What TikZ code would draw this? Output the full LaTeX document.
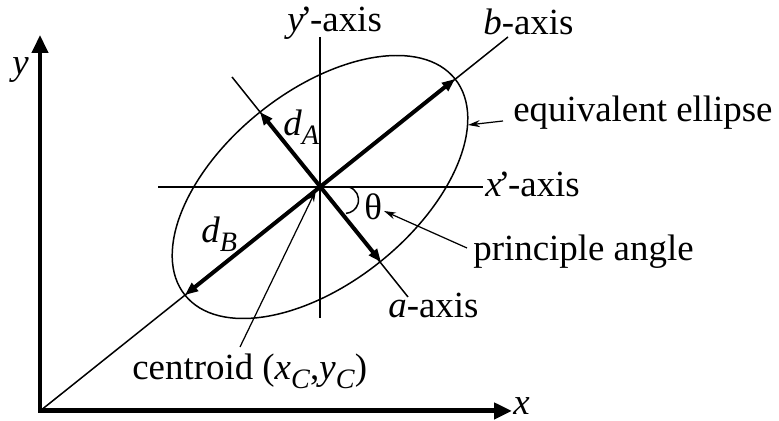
\documentclass[tikz,border=0pt]{standalone}
\usepackage{fontspec}
\setmainfont{Liberation Serif}
\usetikzlibrary{arrows.meta}

\newcommand{\lowsub}[1]{\raisebox{-0.22em}{\fontsize{16}{16}\selectfont #1}}
\newcommand{\primemark}{\kern-0.1em’\kern-0.06em}

\begin{document}
\begin{tikzpicture}[
x=0.02cm, y=0.02cm,
every node/.style={font=\fontsize{21}{25}\selectfont, inner sep=0pt, anchor=base west},
axisline/.style={line width=0.1cm, line join=miter,
  {Triangle[length=0.36cm, width=0.32cm]}-{Triangle[length=0.36cm, width=0.32cm]}},
thinline/.style={line width=0.85pt},
halfaxis/.style={line width=0.08cm,
  {Triangle[length=0.26cm, width=0.2cm]}-{Triangle[length=0.26cm, width=0.2cm]}},
pointer/.style={line width=0.7pt, -{Stealth[length=0.24cm, width=0.14cm]}}
]
\useasboundingbox (0,0) rectangle (779,421);

% frame points
\coordinate (O) at (40,10);
\coordinate (ytop) at (40,386);
\coordinate (xend) at (512,10);
\coordinate (C) at (320,234);

% principal axes
\coordinate (bend) at (508,384);
\coordinate (atop) at (232,344);
\coordinate (abot) at (408,124);
\coordinate (xpleft) at (158,234);
\coordinate (xpright) at (483,234);
\coordinate (yptop) at (320,384);
\coordinate (ypbot) at (320,103);
\coordinate (dBhi) at (455,342);
\coordinate (dBlo) at (185,126);
\coordinate (dAhi) at (260,309);
\coordinate (dAlo) at (381,159);
\coordinate (thstart) at (349,234);

% pointer ends
\coordinate (eqfrom) at (503,300);
\coordinate (eqtip) at (468,296);
\coordinate (pafrom) at (467,173);
\coordinate (patip) at (384,210);
\coordinate (cenfrom) at (240,74);
\coordinate (centip) at (316,231);

\node (lblyp) at (287,389) {\textit{y}\primemark-axis};
\node (lblb) at (483,386) {\textit{b}-axis};
\node (lbleq) at (513,299) {equivalent ellipse};
\node (lblxp) at (485,224) {\textit{x}\primemark-axis};
\node (lblth) at (364,201) {θ};
\node (lblpa) at (473,160) {principle angle};
\node (lbla) at (388,103) {\textit{a}-axis};
\node (lblcen) at (132,41) {centroid (\textit{x}\lowsub{\textit{C}},\textit{y}\lowsub{\textit{C}})};
\node (lbldA) at (283,285) {\textit{d}\lowsub{\textit{A}}};
\node (lbldB) at (201,178) {\textit{d}\lowsub{\textit{B}}};
\node (lblx) at (513,6) {\textit{x}};
\node (lbly) at (12,346) {\textit{y}};

\draw[thinline, rotate around={38.66:(C)}] (C) ellipse [x radius=3.46cm, y radius=1.92cm];
\draw[thinline] (O) -- (bend);
\draw[thinline] (atop) -- (abot);
\draw[thinline] (xpleft) -- (xpright);
\draw[thinline] (yptop) -- (ypbot);
\draw[thinline] (thstart) arc[start angle=73, end angle=-86, radius=0.27cm];

\draw[halfaxis] (dBlo) -- (dBhi);
\draw[halfaxis] (dAhi) -- (dAlo);
\draw[axisline] (ytop) -- (O) -- (xend);

\draw[pointer] (eqfrom) -- (eqtip);
\draw[pointer] (pafrom) -- (patip);
\draw[pointer] (cenfrom) -- (centip);

\end{tikzpicture}
\end{document}
